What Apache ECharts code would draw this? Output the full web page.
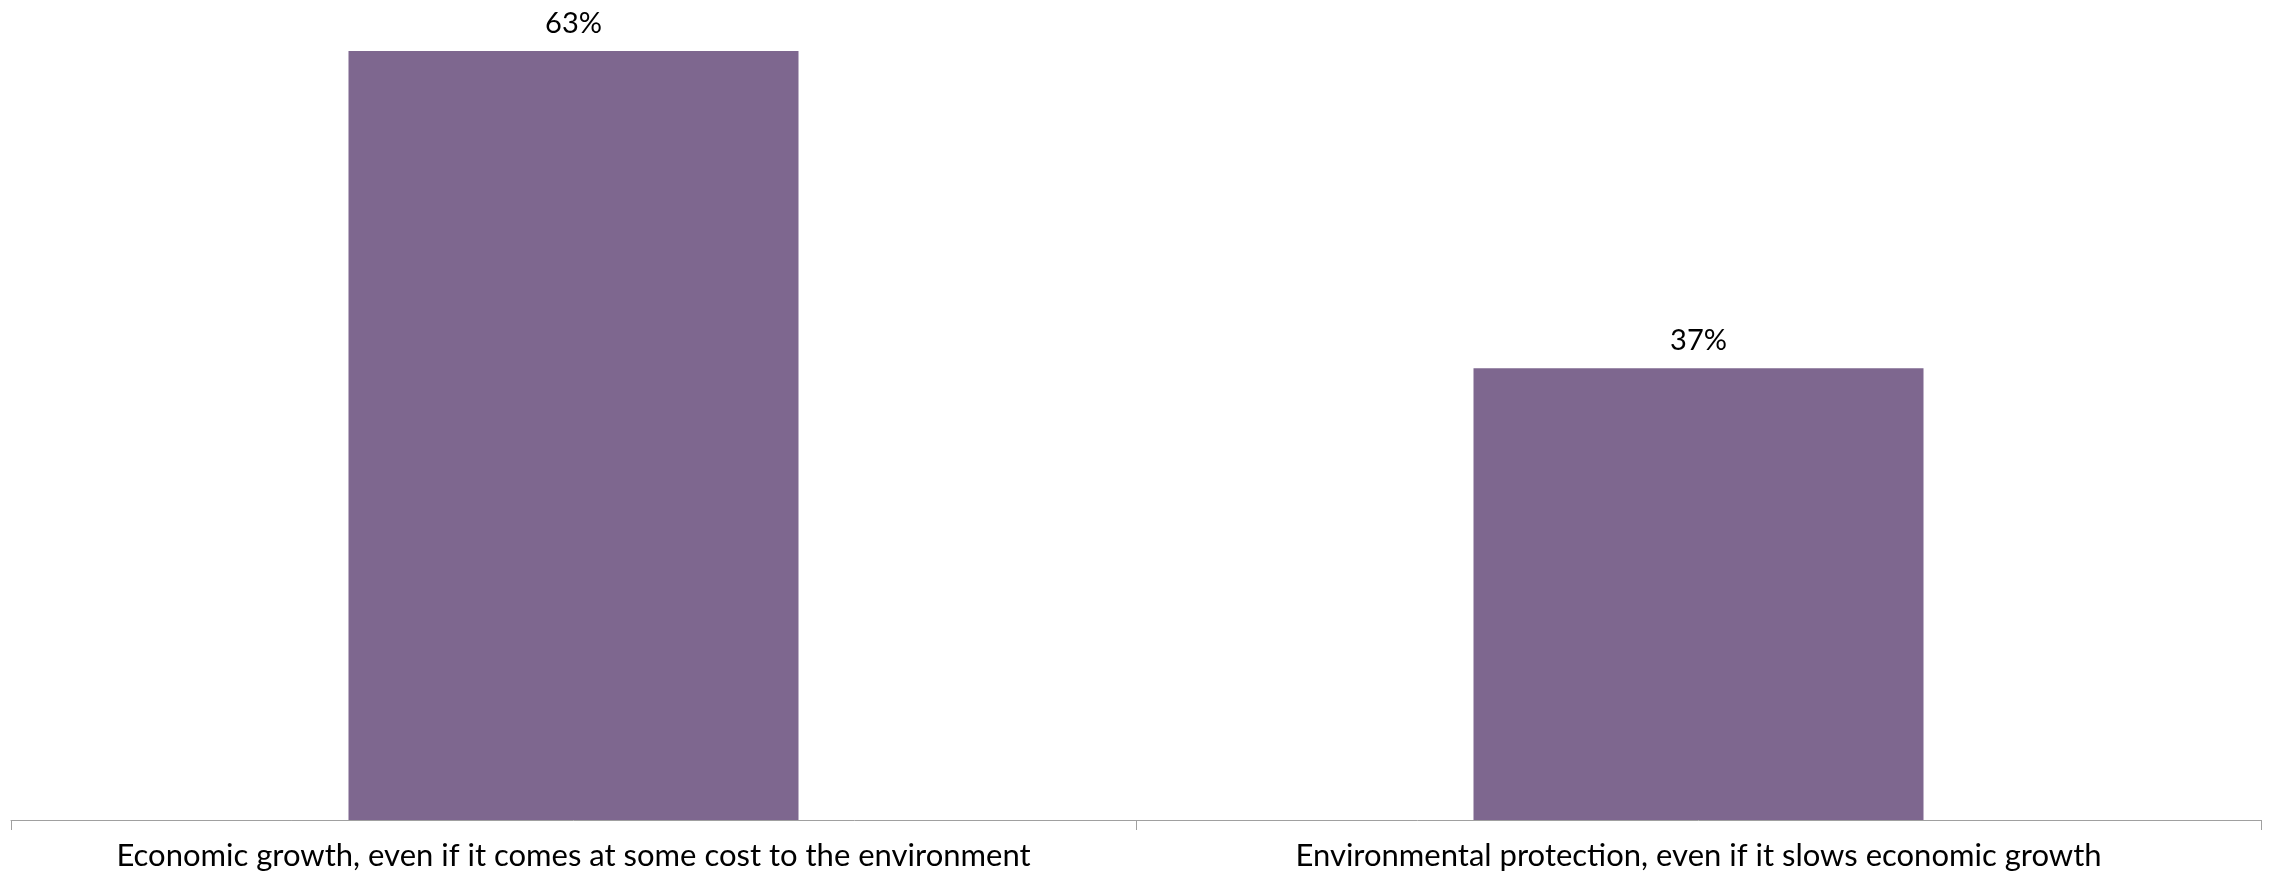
<!DOCTYPE html>
<html>
<head>
<meta charset="utf-8">
<script src="https://cdn.jsdelivr.net/npm/echarts@6/dist/echarts.min.js"></script>
<style>html,body{margin:0;padding:0;background:#fff}#c{width:2270px;height:875px}</style>
</head>
<body>
<div id="c"></div>
<script>
const categories = ["Economic growth, even if it comes at some cost to the environment", "Environmental protection, even if it slows economic growth"];
const values = [63, 37];

const chart = echarts.init(document.getElementById('c'));
chart.setOption({
  animation: false,
  backgroundColor: '#ffffff',
  grid: { left: 11, right: 9, top: 51, bottom: 55, containLabel: false },
  xAxis: {
    type: 'category',
    data: categories,
    axisLine: { show: true, lineStyle: { color: '#a0a0a0', width: 1 } },
    axisTick: { show: true, interval: 0, length: 10, lineStyle: { color: '#a0a0a0' } },
    axisLabel: { interval: 0, hideOverlap: false, color: '#000', fontFamily: 'Lato', fontSize: 31, margin: 20 }
  },
  yAxis: {
    type: 'value', min: 0, max: 63,
    show: false, splitLine: { show: false }
  },
  series: [{
    type: 'bar',
    data: values,
    barWidth: '40%',
    itemStyle: { color: '#7e678f' },
    label: {
      show: true, position: 'top', distance: 13,
      formatter: p => p.value + '%',
      color: '#000', fontFamily: 'Lato', fontSize: 29
    }
  }]
});
</script>
</body>
</html>
